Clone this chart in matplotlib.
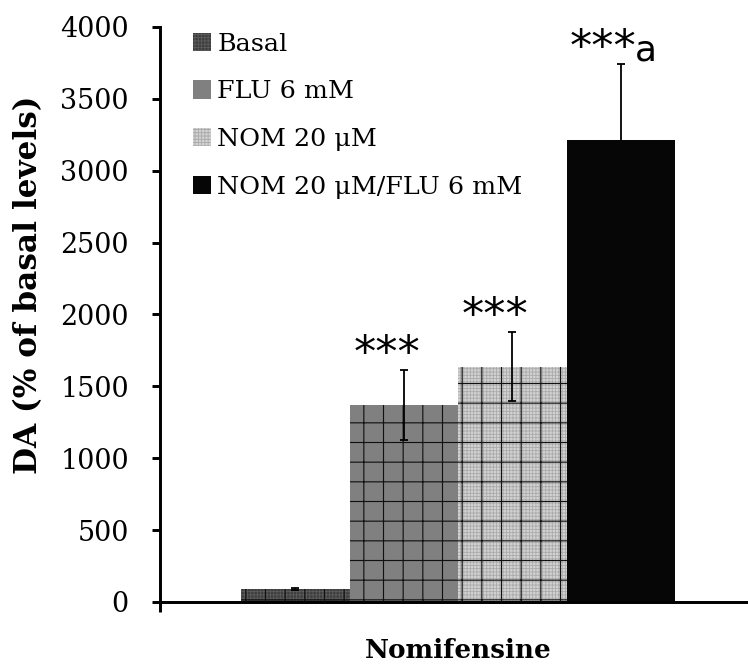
import matplotlib
matplotlib.use("Agg")
import matplotlib.pyplot as plt
from matplotlib.patches import Patch
import numpy as np

# data
groups = ["Basal", "FLU 6 mM", "NOM 20 \u03bcM", "NOM 20 \u03bcM/FLU 6 mM"]
values = [90, 1370, 1637, 3214]
errors = [5, 245, 240, 530]
marks = ["", "***", "***", "***"]
superscripts = ["", "", "", "a"]
yticks = [0, 500, 1000, 1500, 2000, 2500, 3000, 3500, 4000]

face_colors = ["#3e3e3e", "#808080", "#d2d2d2", "#060606"]
fine_colors = ["#5c5c5c", "#808080", "#aaaaaa", "#060606"]
fine_hatch = ["++++++", None, "++++++", None]
big_hatch = ["+", "+", "+", None]

DPI = 118
plt.rcParams["font.family"] = "DejaVu Serif"
fig = plt.figure(figsize=(748 / DPI, 664 / DPI), dpi=DPI)
ax = fig.add_axes([160 / 748, 1 - 602 / 664, 588 / 748, 575 / 664])

x = np.arange(len(groups))
width = 1.0

for i in range(len(groups)):
    plt.rcParams["hatch.linewidth"] = 0.5
    ax.bar(x[i], values[i], width, color=face_colors[i], edgecolor=fine_colors[i],
           hatch=fine_hatch[i], linewidth=0, zorder=2)
    if big_hatch[i]:
        plt.rcParams["hatch.linewidth"] = 0.7
        ax.bar(x[i], values[i], width, facecolor="none", edgecolor="#111111",
               hatch=big_hatch[i], linewidth=0, zorder=3)
    # the black bar hides the lower half of its own error bar
    ax.errorbar(x[i], values[i], yerr=errors[i], fmt="none", ecolor="black",
                elinewidth=1.1, capsize=2.6, capthick=1.1,
                zorder=4 if big_hatch[i] else 1)

for i in range(len(groups)):
    if marks[i]:
        ax.text(x[i] - 0.16, values[i] + errors[i] + 20, marks[i],
                ha="center", va="baseline", fontsize=27, family="DejaVu Sans")
        if superscripts[i]:
            ax.annotate(superscripts[i], xy=(x[i] - 0.16, values[i] + errors[i] + 20),
                        xytext=(19, 0), textcoords="offset points",
                        ha="left", va="baseline", fontsize=22, family="DejaVu Sans")

ax.set_xlim(-1.249, 4.173)
ax.set_ylim(0, 4000)
ax.set_yticks(yticks)
ax.set_xticks([-1.249])
ax.set_xticklabels([""])
ax.tick_params(axis="y", length=5, width=1.8, pad=14, labelsize=16.5)
ax.tick_params(axis="x", length=6, width=1.8, direction="out")

for s in ["top", "right"]:
    ax.spines[s].set_visible(False)
for s in ["left", "bottom"]:
    ax.spines[s].set_linewidth(1.8)

ax.set_ylabel("DA (% of basal levels)", fontsize=19, fontweight="bold")
ax.yaxis.set_label_coords(-0.223, 0.551)
ax.set_xlabel("Nomifensine", fontsize=16, fontweight="bold")
ax.xaxis.set_label_coords(0.507, -0.0835)
ax.xaxis.label.set_va("center")
ax.yaxis.label.set_va("center")

handles = []
for i in range(len(groups)):
    handles.append(Patch(facecolor=face_colors[i], edgecolor=fine_colors[i],
                         hatch=fine_hatch[i], linewidth=0))
ax.legend(handles, groups, loc="upper left", bbox_to_anchor=(0.056, 0.99),
          frameon=False, fontsize=15.5, handlelength=0.72, handleheight=0.72,
          handletextpad=0.24, labelspacing=0.97, borderpad=0, borderaxespad=0)

fig.savefig("out.png", dpi=DPI)
